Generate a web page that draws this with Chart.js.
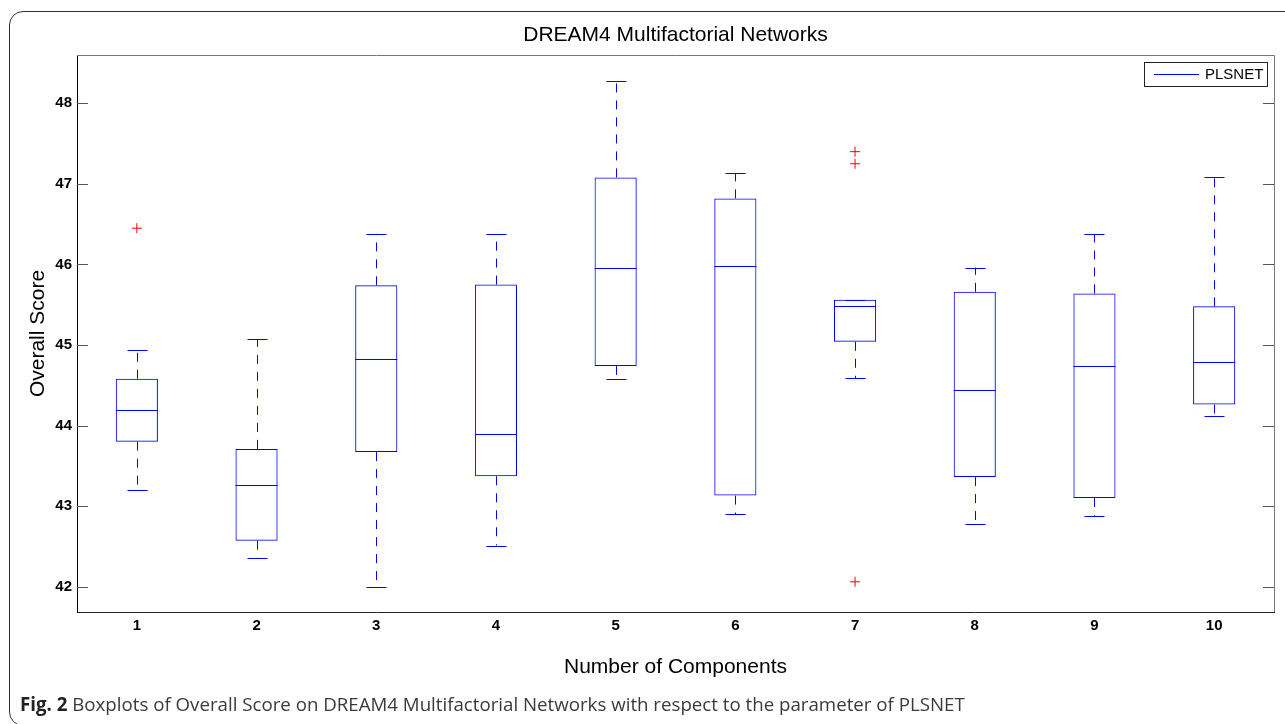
<!DOCTYPE html>
<html>
<head>
<meta charset="utf-8">
<script src="https://cdn.jsdelivr.net/npm/chart.js@4.4.1/dist/chart.umd.min.js"></script>
<style>
  html, body { margin: 0; padding: 0; background: #fff; }
  #wrap { position: relative; width: 1285px; height: 724px; overflow: hidden; }
  #frame {
    position: absolute; left: 9px; top: 11px; width: 1290px; height: 715px;
    border: 1.5px solid #333; border-radius: 14px; box-sizing: border-box; pointer-events: none;
  }
  #caption {
    position: absolute; left: 20px; top: 691px; font-family: "Open Sans", sans-serif;
    font-size: 18.7px; line-height: 26px; color: #3a3a3a; white-space: nowrap;
  }
  #caption b { color: #222; }
</style>
</head>
<body>
<div id="wrap">
  <canvas id="boxChart" width="1285" height="724"></canvas>
  <div id="frame"></div>
  <div id="caption"><b>Fig. 2</b> Boxplots of Overall Score on DREAM4 Multifactorial Networks with respect to the parameter of PLSNET</div>
</div>
<script>
const categories = ['1', '2', '3', '4', '5', '6', '7', '8', '9', '10'];
const lowerWhisker = [43.20, 42.35, 41.99, 42.51, 44.58, 42.90, 44.59, 42.78, 42.88, 44.12];
const q1 = [43.80, 42.57, 43.67, 43.37, 44.74, 43.13, 45.04, 43.36, 43.10, 44.26];
const medians = [44.19, 43.26, 44.82, 43.90, 45.96, 45.98, 45.48, 44.44, 44.74, 44.79];
const q3 = [44.58, 43.71, 45.74, 45.75, 47.08, 46.82, 45.56, 45.66, 45.64, 45.48];
const upperWhisker = [44.94, 45.07, 46.38, 46.38, 48.28, 47.13, 45.56, 45.96, 46.38, 47.08];
const outliers = [
    { x: '1', y: 46.45 },
    { x: '7', y: 47.40 },
    { x: '7', y: 47.25 },
    { x: '7', y: 42.06 }
];
const yTicks = [42, 43, 44, 45, 46, 47, 48];

const BLUE = '#0000ff';
const FONT = '"Liberation Sans", Arial, sans-serif';

// whiskers, caps, medians, frame ticks and legend
const boxExtras = {
    id: 'boxExtras',
    afterDatasetsDraw(chart) {
        const { ctx, scales: { x, y } } = chart;
        const bars = chart.getDatasetMeta(0).data;
        ctx.save();
        ctx.strokeStyle = BLUE;
        ctx.lineWidth = 1;
        categories.forEach((c, i) => {
            const cx = Math.round(x.getPixelForValue(i)) + 0.5;
            const half = bars[i].width / 2;
            const capHalf = 10;
            const yl = y.getPixelForValue(lowerWhisker[i]);
            const y1 = y.getPixelForValue(q1[i]);
            const y3 = y.getPixelForValue(q3[i]);
            const yu = y.getPixelForValue(upperWhisker[i]);
            const ym = Math.round(y.getPixelForValue(medians[i])) + 0.5;
            ctx.setLineDash([9, 8]);
            ctx.beginPath();
            ctx.moveTo(cx, y3); ctx.lineTo(cx, yu);
            ctx.moveTo(cx, y1); ctx.lineTo(cx, yl);
            ctx.stroke();
            ctx.setLineDash([]);
            ctx.beginPath();
            ctx.moveTo(cx - capHalf, Math.round(yu) + 0.5); ctx.lineTo(cx + capHalf, Math.round(yu) + 0.5);
            ctx.moveTo(cx - capHalf, Math.round(yl) + 0.5); ctx.lineTo(cx + capHalf, Math.round(yl) + 0.5);
            ctx.moveTo(bars[i].x - half, ym); ctx.lineTo(bars[i].x + half, ym);
            ctx.stroke();
        });
        ctx.restore();
    },
    afterDraw(chart) {
        const { ctx, chartArea: a, scales: { y } } = chart;
        ctx.save();
        // top and right frame
        ctx.strokeStyle = '#777';
        ctx.lineWidth = 1;
        ctx.beginPath();
        ctx.moveTo(a.left, a.top + 0.5); ctx.lineTo(a.right + 0.5, a.top + 0.5);
        ctx.lineTo(a.right + 0.5, a.bottom);
        ctx.stroke();
        // inward tick marks
        ctx.strokeStyle = '#555';
        ctx.beginPath();
        yTicks.forEach(v => {
            const py = Math.round(y.getPixelForValue(v)) + 0.5;
            ctx.moveTo(a.left, py); ctx.lineTo(a.left + 11, py);
            ctx.moveTo(a.right, py); ctx.lineTo(a.right - 11, py);
        });
        ctx.stroke();
        // legend
        const lx = a.right - 130, ly = a.top + 7, lw = 123, lh = 24;
        ctx.fillStyle = '#fff';
        ctx.fillRect(lx, ly, lw, lh);
        ctx.strokeStyle = '#222';
        ctx.strokeRect(lx + 0.5, ly + 0.5, lw, lh);
        ctx.strokeStyle = BLUE;
        ctx.beginPath();
        ctx.moveTo(lx + 10, ly + 12.5); ctx.lineTo(lx + 55, ly + 12.5);
        ctx.stroke();
        ctx.fillStyle = '#000';
        ctx.font = '15px ' + FONT;
        ctx.textBaseline = 'middle';
        ctx.fillText(chart.data.datasets[0].label, lx + 61, ly + 13);
        ctx.restore();
    }
};

new Chart(document.getElementById('boxChart'), {
    type: 'bar',
    data: {
        labels: categories,
        datasets: [{
            label: 'PLSNET',
            data: categories.map((c, i) => [q1[i], q3[i]]),
            backgroundColor: 'rgba(0,0,0,0)',
            borderColor: BLUE,
            borderWidth: 1,
            borderSkipped: false,
            barPercentage: 0.352,
            categoryPercentage: 1
        }, {
            type: 'scatter',
            label: 'Outliers',
            data: outliers,
            pointStyle: 'cross',
            radius: 5,
            borderColor: '#ff0000',
            borderWidth: 1
        }]
    },
    options: {
        responsive: false,
        animation: false,
        layout: { padding: { left: 10, right: 11, bottom: 44, top: 0 } },
        plugins: {
            legend: { display: false },
            tooltip: { enabled: false },
            title: {
                display: true,
                text: 'DREAM4 Multifactorial Networks',
                fullSize: false,
                color: '#000',
                font: { family: FONT, size: 21, weight: 'normal' },
                padding: { top: 23, bottom: 6.8 }
            }
        },
        scales: {
            x: {
                type: 'category',
                grid: { display: false, drawTicks: false },
                border: { display: true, color: '#222', width: 1 },
                ticks: { color: '#000', padding: 5, font: { family: FONT, size: 15, weight: 'bold' } },
                title: {
                    display: true,
                    text: 'Number of Components',
                    color: '#000',
                    font: { family: FONT, size: 21 },
                    padding: { top: 0, bottom: 0.5 }
                },
                afterFit(s) { s.height = 68; }
            },
            y: {
                min: 41.685,
                max: 48.6,
                grid: { display: false, drawTicks: false },
                border: { display: true, color: '#000', width: 1 },
                ticks: { color: '#000', padding: 5, font: { family: FONT, size: 15, weight: 'bold' } },
                afterBuildTicks(s) { s.ticks = yTicks.map(v => ({ value: v })); },
                title: {
                    display: true,
                    text: 'Overall Score',
                    color: '#000',
                    font: { family: FONT, size: 21 },
                    padding: { top: 15.5, bottom: 0 }
                },
                afterFit(s) { s.width = 67; }
            }
        }
    },
    plugins: [boxExtras]
});
</script>
</body>
</html>
